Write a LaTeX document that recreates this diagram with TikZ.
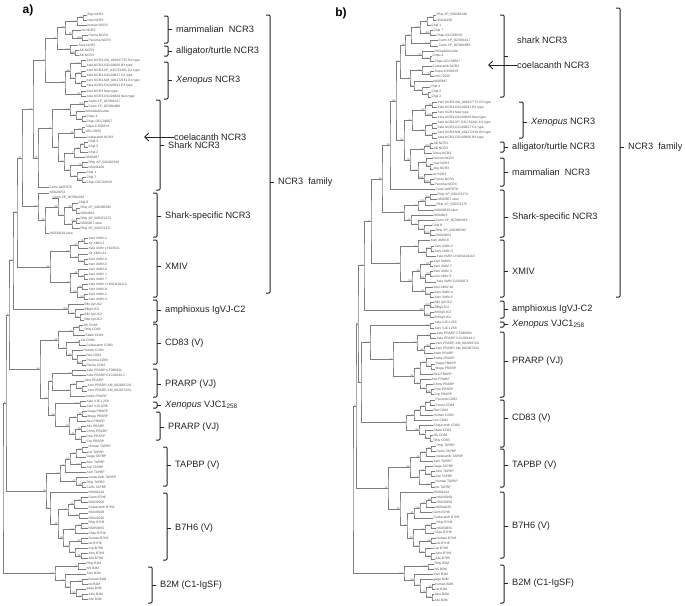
\documentclass[tikz,border=0pt]{standalone}
\usepackage{fontspec}
\setmainfont{Liberation Sans}
\usepackage{tikz}
\usetikzlibrary{calc, arrows.meta}
\definecolor{branchgray}{RGB}{125,125,125}
\definecolor{leafgray}{RGB}{80,80,80}
\definecolor{bracketblack}{RGB}{35,35,35}

\tikzset{
  br/.style={draw=branchgray, line width=0.45pt},
  lf/.style={anchor=west, inner sep=0.4pt, text=leafgray, font=\fontsize{3.3}{4}\selectfont},
  bsv/.style={anchor=east, inner sep=0.3pt, text=leafgray, font=\fontsize{2.5}{3}\selectfont},
  brk/.style={draw=bracketblack, line width=1pt, rounded corners=1pt},
  grplab/.style={anchor=west, inner sep=0pt, text=bracketblack, font=\fontsize{9.2}{11}\selectfont},
  carr/.style={draw=bracketblack, line width=1pt, -{Straight Barb[length=4pt,width=8pt]}},
}

%% leaf: name, row, tip x, label
\newcommand\leaf[4]{%
  \coordinate (#1) at (#3,{\ybase+(#2-1)*\ystep});
  \node[lf] (#1t) at (#1) {#4};}
%% clade: name, x, child, child, support
\newcommand\cl[5]{%
  \path let \p1=($(#3)!0.5!(#4)$) in coordinate (#1) at (#2pt,\y1);
  \draw[br] (#3) -| (#1) |- (#4);
  \node[bsv] (#1v) at (#1) {#5};}
%% bracket: name, x, top, bottom, tick, label
\newcommand\grp[6]{%
  \draw[brk] (#2-4,#3) -- (#2,#3) -- (#2,#4) -- (#2-4,#4);
  \draw[brk] (#2,#5) -- (#2+4,#5);
  \node[grplab] (#1) at (#2+8,#5) {#6};}

\begin{document}
\begin{tikzpicture}[x=1pt, y=-1pt]
  \useasboundingbox (0,0) rectangle (685,605);

  \node[font=\bfseries\fontsize{12}{14}\selectfont] (pa) at (28,10) {a)};
  \node[font=\bfseries\fontsize{12}{14}\selectfont] (pb) at (341,13) {b)};

  %% ---------------- tree a ----------------
  \def\ybase{15}\def\ystep{5.08}
  \foreach \n/\t/\s in {1/87/Bop NCR3, 2/87/cow NCR3, 3/87/human NCR3, 4/81/rat NCR3,
    5/88/Pecria NCR3, 6/88/Pecoma NCR3, 7/78/Tsca NCR3, 8/79/Alli NCR3, 9/79/Alli NCR3,
    10/86/Xeni NCR3-XM\_002937757 BX type, 11/86/Xela NCR3-OC100826 BX type,
    12/86/Xeni NCR3-XP\_031751201 CX type, 13/86/Xela NCR3-OC100817 CX type,
    14/86/Xeni NCR3-NM\_001172161 EX type, 15/86/Xela NCR3-OC100531 EX type,
    16/86/Xeni NCR3 New type, 17/86/Xela NCR3-OC100820 New type,
    18/88/Carm XP\_007884417, 19/88/Carm XP\_007884866, 20/85/NSXadaSii.slow,
    21/86/Chpu-4, 22/86/Chpu-GCC36507, 23/85/Scipo-C3VB6Y8, 24/85/NS172935,
    25/86/Coelacanth NCR3, 26/88/Chpl 3, 27/88/Chpl 5, 28/88/Chpl 2, 29/85/NS05847,
    30/88/Rhty XP\_020382339, 31/88/NS041406, 32/86/Chpl 1, 33/86/Chpl 7,
    34/86/Chpu GCC38539, 35/49/Carm JA6F6T8,
    36/49/NS024053, 37/52/Carm XP\_007884919, 38/78/Chpl 8, 39/80/Rhty XP\_020385593,
    40/80/NS04823, 41/80/Rhty XP\_020372273, 42/80/NS05857.slow,
    43/80/Rhty XP\_020373371, 44/49/NS032619.slow,
    45/88/Xeni XMIV-1, 46/88/Xtr XMIV-2, 47/88/Xela XMIV LY102511, 48/88/Xtr XMIV-12,
    49/88/Xeni XMIV-4, 50/88/Xeni XMIV-5, 51/88/Xeni XMIV-6, 52/88/Xeni XMIV 1,
    53/88/Xeni XMIV 7, 54/88/Xela XMIV LY1061102113, 55/88/Xeni XMIV-8,
    56/88/Xeni XMIV-2, 57/88/Xeni XMIV-3,
    58/84/Bflo IgVJC2, 59/84/BflIgVJC2, 60/84/Bflo IgVJC2, 61/84/Bbe IgVJC2,
    62/83/NS CD83, 63/84/Rhty CD83, 64/85/Skate CD83, 65/80/Xai CD83,
    66/86/Coelacanth CD83, 67/83/Human CD83, 68/86/Rat CD83, 69/86/Pecoma CD83,
    70/86/Pecria CD83,
    71/86/Xela PRARP CF280934, 72/86/Xela PRARP CC100144.1, 73/84/Alno PRARP,
    74/87/Xeni PRARP-XM\_002936720, 75/87/Xeni PRARP-XM\_002937234, 76/85/Anolis PRARP,
    77/86/Xela VJC1 258, 78/86/Xeni VJC1258,
    79/87/Gaga PRARP, 80/87/Mega PRARP, 81/86/Nira PRARP, 82/86/Allo PRARP,
    83/86/Chmy PRARP, 84/86/Pesi PRARP, 85/86/Crp PRARP,
    86/88/Human TAPBP, 87/88/rat TAPBP, 88/86/Gaga TAPBP, 89/86/Alno TAPBP,
    90/86/Alsi TAPBP, 91/86/Xeni TAPBP, 92/88/coelacanth TAPBP, 93/86/Rhty TAPBP,
    94/86/Carm TAPBP,
    95/88/NS001234, 96/88/Carm B7H6, 97/88/NS032956, 98/88/Coelacanth B7H6,
    99/88/NS045908, 100/88/NS022026, 101/88/Rhty B7H6, 102/88/NS050655,
    103/88/Chpu B7H6, 104/88/Human B7H6, 105/88/rat B7H6, 106/88/Crp B7H6,
    107/88/Alno B7H6, 108/88/Alsi B7H6,
    109/86/Rhty B2M, 110/86/NS B2M, 111/86/Xeni B2M, 112/88/human B2M,
    113/88/rat B2M, 114/86/gaga B2M, 115/88/Alno B2M, 116/88/Alsi B2M}
    {\leaf{a\n}{\n}{\t}{\s}}

  %% NCR3 (tetrapod, Xenopus)
  \cl{am1}{83}{a1}{a2}{99} \cl{am2}{77}{am1}{a3}{58} \cl{am3}{82}{a5}{a6}{100}
  \cl{am4}{72}{a4}{am3}{79} \cl{am5}{65}{am2}{am4}{95}
  \cl{at1}{75}{a8}{a9}{100} \cl{at2}{70}{a7}{at1}{100} \cl{at3}{57}{am5}{at2}{76}
  \cl{ax1}{81}{a10}{a11}{100} \cl{ax2}{81}{a12}{a13}{100} \cl{ax3}{81}{a14}{a15}{91}
  \cl{ax4}{81}{a16}{a17}{97} \cl{ax5}{75}{ax2}{ax3}{64} \cl{ax6}{70}{ax1}{ax5}{48}
  \cl{ax7}{65}{ax6}{ax4}{98} \cl{at4}{45}{at3}{ax7}{7}
  %% shark NCR3
  \cl{as1}{84}{a18}{a19}{100} \cl{as2}{82}{a21}{a22}{97} \cl{as3}{76}{a20}{as2}{64}
  \cl{as4}{70}{as1}{as3}{54} \cl{as5}{82}{a23}{a24}{99} \cl{as6}{74}{as5}{a25}{36}
  \cl{as7}{84}{a26}{a27}{98} \cl{as8}{80}{as7}{a28}{96} \cl{as9}{74}{as8}{a29}{7}
  \cl{as10}{82}{a30}{a31}{75} \cl{as11}{82}{a33}{a34}{100} \cl{as12}{77}{a32}{as11}{78}
  \cl{as13}{70}{as10}{as12}{58} \cl{as14}{64}{as9}{as13}{24} \cl{as15}{58}{as6}{as14}{12}
  \cl{as16}{52}{as4}{as15}{11} \cl{as17}{38}{as16}{a35}{14} \cl{an1}{33}{at4}{as17}{21}
  %% shark-specific
  \cl{ap1}{76}{a39}{a40}{99} \cl{ap2}{72}{a38}{ap1}{44} \cl{ap3}{76}{a41}{a42}{100}
  \cl{ap4}{72}{ap3}{a43}{92} \cl{ap5}{64}{ap2}{ap4}{31} \cl{ap6}{58}{a37}{ap5}{58}
  \cl{ap7}{45}{ap6}{a44}{16} \cl{ap8}{38}{a36}{ap7}{98} \cl{an2}{22}{an1}{ap8}{21}
  %% XMIV
  \cl{ai1}{84}{a45}{a46}{78} \cl{ai2}{78}{ai1}{a47}{97} \cl{ai3}{84}{a49}{a50}{99}
  \cl{ai4}{78}{a48}{ai3}{44} \cl{ai5}{70}{ai2}{ai4}{95} \cl{ai6}{84}{a52}{a53}{75}
  \cl{ai7}{78}{a51}{ai6}{48} \cl{ai8}{82}{a54}{a55}{98} \cl{ai9}{84}{a56}{a57}{93}
  \cl{ai10}{77}{ai8}{ai9}{55} \cl{ai11}{70}{ai7}{ai10}{34} \cl{ai12}{50}{ai5}{ai11}{55}
  \cl{an3}{17}{an2}{ai12}{28}
  %% amphioxus
  \cl{aw1}{80}{a60}{a61}{94} \cl{aw2}{75}{a59}{aw1}{100} \cl{aw3}{68}{a58}{aw2}{100}
  \cl{an4}{13}{an3}{aw3}{8}
  %% CD83
  \cl{ac1}{79}{a62}{a63}{98} \cl{ac2}{73}{ac1}{a64}{91} \cl{ac3}{79}{a65}{a66}{63}
  \cl{ac4}{82}{a69}{a70}{100} \cl{ac5}{77}{a68}{ac4}{67} \cl{ac6}{72}{a67}{ac5}{59}
  \cl{ac7}{66}{ac3}{ac6}{38} \cl{ac8}{58}{ac2}{ac7}{54}
  %% PRARP, Xenopus VJC1
  \cl{ar1}{72}{a71}{a72}{99} \cl{ar2}{82}{a74}{a75}{99} \cl{ar3}{76}{a73}{ar2}{64}
  \cl{ar4}{70}{ar3}{a76}{54} \cl{ar5}{52}{ar1}{ar4}{76} \cl{ar6}{80}{a77}{a78}{100}
  \cl{ar7}{82}{a79}{a80}{93} \cl{ar8}{77}{ar7}{a81}{51} \cl{ar9}{81}{a82}{a83}{78}
  \cl{ar10}{81}{a84}{a85}{97} \cl{ar11}{75}{ar9}{ar10}{45} \cl{ar12}{69}{ar8}{ar11}{79}
  \cl{ar13}{55}{ar6}{ar12}{14} \cl{ar14}{48}{ar5}{ar13}{73} \cl{an5}{40}{ac8}{ar14}{14}
  \cl{an6}{9}{an4}{an5}{4}
  %% TAPBP
  \cl{aq1}{82}{a86}{a87}{99} \cl{aq2}{76}{aq1}{a88}{93} \cl{aq3}{81}{a89}{a90}{100}
  \cl{aq4}{70}{aq2}{aq3}{57} \cl{aq5}{65}{aq4}{a91}{67} \cl{aq6}{82}{a93}{a94}{98}
  \cl{aq7}{76}{a92}{aq6}{47} \cl{aq8}{60}{aq5}{aq7}{98}
  %% B7H6
  \cl{ah1}{81}{a96}{a97}{47} \cl{ah2}{74}{ah1}{a98}{24} \cl{ah3}{79}{a99}{a100}{24}
  \cl{ah4}{68}{ah2}{ah3}{21} \cl{ah5}{81}{a101}{a102}{47} \cl{ah6}{75}{ah5}{a103}{100}
  \cl{ah7}{81}{a104}{a105}{97} \cl{ah8}{81}{a107}{a108}{99} \cl{ah9}{75}{a106}{ah8}{27}
  \cl{ah10}{69}{ah7}{ah9}{62} \cl{ah11}{63}{ah6}{ah10}{18} \cl{ah12}{58}{ah4}{ah11}{34}
  \cl{ah13}{50}{a95}{ah12}{44} \cl{an7}{46}{aq8}{ah13}{79}
  \cl{an8}{6}{an6}{an7}{9}
  %% B2M
  \cl{ab1}{78}{a109}{a110}{99} \cl{ab2}{82}{a112}{a113}{98} \cl{ab3}{82}{a115}{a116}{99}
  \cl{ab4}{76}{a114}{ab3}{55} \cl{ab5}{70}{ab2}{ab4}{79} \cl{ab6}{65}{a111}{ab5}{72}
  \cl{ab7}{55}{ab1}{ab6}{100} \cl{aroot}{3}{an8}{ab7}{}

  %% groups, tree a
  \grp{ga1}{168}{16}{43}{29}{mammalian\ \ NCR3}
  \grp{ga2}{168}{46}{56}{51}{alligator/turtle NCR3}
  \grp{ga3}{168}{62}{99}{80}{\itshape Xenopus\upshape\ NCR3}
  \grp{ga4}{160}{100}{190}{145}{Shark NCR3}
  \grp{ga5}{157}{193}{237}{216}{Shark-specific NCR3}
  \grp{ga6}{157}{240}{297}{266}{XMIV}
  \grp{ga7}{157}{300}{322}{310}{amphioxus IgVJ-C2}
  \grp{ga8}{157}{324}{364}{343}{CD83 (V)}
  \grp{ga9}{157}{369}{397}{384}{PRARP (VJ)}
  \grp{ga10}{157}{402}{408}{405}{\itshape Xenopus\upshape\ VJC1\textsubscript{258}}
  \grp{ga11}{160}{412}{440}{427}{PRARP (VJ)}
  \grp{ga12}{167}{447}{486}{465}{TAPBP (V)}
  \grp{ga13}{167}{493}{560}{528}{B7H6 (V)}
  \grp{ga14}{152}{567}{603}{585}{B2M (C1-IgSF)}
  \grp{ga15}{270}{15}{293}{182}{NCR3\ \ family}
  \node[grplab] (coa) at (174,137) {coelacanth NCR3};
  \coordinate (coatip) at (144,137);
  \draw[carr] (coa.west) -- (coatip);

  %% ---------------- tree b ----------------
  \def\ybase{15}\def\ystep{5.13}
  \foreach \n/\t/\s in {1/436/Rhty XP\_020382339, 2/436/NS041406, 3/431/Chpl 1,
    4/433/Chpl 7, 5/436/Chpu GCC38539, 6/438/Carm XP\_007884417, 7/438/Carm XP\_007884866,
    8/434/NSXadaSii.slow, 9/432/Chpu-4, 10/434/Chpu-GCC36507, 11/432/Coelacanth NCR3,
    12/434/Scipo-C3VB6Y8, 13/434/NS172935, 14/433/NS05847, 15/430/Chpl 3,
    16/431/Chpl 5, 17/431/Chpl 2,
    18/437/Xeni NCR3-XM\_002937757 EX type, 19/437/Xela NCR3-OC100531 EX type,
    20/437/Xeni NCR3 New type, 21/437/Xela NCR3-OC100820 New type,
    22/437/Xeni NCR3-XP\_031751201 CX type, 23/437/Xela NCR3-OC100817 CX type,
    24/437/Xeni NCR3-NM\_001172161 BX type, 25/437/Xela NCR3-OC100826 BX type,
    26/433/Alli NCR3, 27/433/Alli NCR3, 28/432/Tesca NCR3, 29/433/human NCR3,
    30/433/cow NCR3, 31/433/dog NCR3, 32/432/rat NCR3, 33/434/Pecria NCR3,
    34/434/Pecoma NCR3, 35/435/Carm JA6F6T8,
    36/437/Rhty XP\_020373273, 37/437/NS05857.slow, 38/436/Rhty XP\_020372275,
    39/434/NS032619.slow, 40/433/NS04823, 41/435/Carm XP\_007884919, 42/432/Chpl 8,
    43/435/Rhty XP\_020385593, 44/435/NS024053,
    45/430/Xeni XMIV-6, 46/434/Xeni XMIV-2, 47/434/Xeni XMIV-3,
    48/436/Xela XMIV LY1061102113, 49/433/Xeni XMIV1, 50/433/Xeni XMIV-7,
    51/433/Xeni XMIV 3, 52/433/xeni XMIV 8, 53/436/Xela XMIV CA306071,
    54/433/xeni XMIV-10, 55/434/Xeni XMIV-4, 56/434/Xeni XMIV-5,
    57/434/Bflo IgVJC2, 58/434/BflIgVJC2, 59/434/Brfl IgVJC2, 60/434/Brfl IgVJC2,
    61/434/Xela VJC1 258, 62/434/Xeni VJC1 258,
    63/436/Xela PRARP CF280934, 64/436/Xela PRARP CC100144.1,
    65/435/Xeni PRARP-XM\_002936720, 66/435/Xeni PRARP-XM\_002937234,
    67/433/Amm PRARP, 68/433/Anolis PRARP, 69/435/Gaga PRARP, 70/435/Mega PRARP,
    71/433/Nira PRARP, 72/431/Ano PRARP, 73/433/Chmy PRARP, 74/434/Pesi PRARP,
    75/434/Crp PRARP,
    76/435/Pecoma CD83, 77/435/Pecria CD83, 78/433/Rat CD83, 79/433/Human CD83,
    80/432/Cen CD83, 81/433/Coelacanth CD83, 82/433/Skate CD83, 83/433/NS CD83,
    84/433/Rhty CD83,
    85/436/Rhty TAPBP, 86/436/Carm TAPBP, 87/435/coelacanth TAPBP, 88/433/Xeni TAPBP,
    89/433/Gaga TAPBP, 90/435/Alno TAPBP, 91/435/Alsi TAPBP, 92/435/Human TAPBP,
    93/435/rat TAPBP,
    94/433/NS001234, 95/436/NS045908, 96/436/NS032956, 97/435/NS044025,
    98/432/Carm B7H6, 99/433/Coelacanth B7H6, 100/436/Rhty B7H6, 101/436/NS050655,
    102/434/Chpu B7H6, 103/436/Human B7H6, 104/436/rat B7H6, 105/433/Crp B7H6,
    106/435/Alno B7H6, 107/435/Alsi B7H6,
    108/434/Rhty B2M, 109/434/NS B2M, 110/433/Xeni B2M, 111/433/gaga B2M,
    112/435/human B2M, 113/435/rat B2M, 114/434/Alno B2M, 115/434/Alsi B2M}
    {\leaf{b\n}{\n}{\t}{\s}}

  %% shark NCR3
  \cl{bs1}{433}{b1}{b2}{84} \cl{bs2}{427}{bs1}{b3}{7} \cl{bs3}{430}{b4}{b5}{100}
  \cl{bs4}{420}{bs2}{bs3}{100} \cl{bs5}{430}{b6}{b7}{100} \cl{bs6}{411}{bs4}{bs5}{54}
  \cl{bs7}{430}{b9}{b10}{100} \cl{bs8}{422}{b8}{bs7}{63} \cl{bs9}{405}{bs6}{bs8}{13}
  \cl{bs10}{430}{b12}{b13}{79} \cl{bs11}{422}{b11}{bs10}{100} \cl{bs12}{428}{b16}{b17}{78}
  \cl{bs13}{422}{b15}{bs12}{100} \cl{bs14}{414}{b14}{bs13}{33} \cl{bs15}{410}{bs11}{bs14}{9}
  \cl{bs16}{400}{bs9}{bs15}{13}
  %% Xenopus, alligator/turtle, mammalian NCR3
  \cl{bx1}{432}{b18}{b19}{99} \cl{bx2}{432}{b20}{b21}{100} \cl{bx3}{425}{bx1}{bx2}{47}
  \cl{bx4}{432}{b22}{b23}{100} \cl{bx5}{432}{b24}{b25}{100} \cl{bx6}{425}{bx4}{bx5}{51}
  \cl{bx7}{412}{bx3}{bx6}{71}
  \cl{bt1}{430}{b26}{b27}{100} \cl{bt2}{424}{bt1}{b28}{99}
  \cl{bm1}{430}{b30}{b31}{74} \cl{bm2}{426}{b29}{bm1}{62} \cl{bm3}{430}{b33}{b34}{100}
  \cl{bm4}{424}{b32}{bm3}{100} \cl{bm5}{418}{bm2}{bm4}{100} \cl{bm6}{410}{bt2}{bm5}{76}
  \cl{bm7}{404}{bx7}{bm6}{81} \cl{bn1}{396}{bs16}{bm7}{81} \cl{bn2}{390}{bn1}{b35}{15}
  %% shark-specific
  \cl{bp1}{430}{b36}{b37}{100} \cl{bp2}{425}{bp1}{b38}{100} \cl{bp3}{418}{bp2}{b39}{84}
  \cl{bp4}{430}{b43}{b44}{100} \cl{bp5}{424}{b42}{bp4}{63} \cl{bp6}{418}{b41}{bp5}{21}
  \cl{bp7}{411}{b40}{bp6}{22} \cl{bp8}{404}{bp3}{bp7}{57} \cl{bn3}{382}{bn2}{bp8}{29}
  %% XMIV
  \cl{bi1}{431}{b46}{b47}{100} \cl{bi2}{426}{bi1}{b48}{100} \cl{bi3}{418}{b45}{bi2}{88}
  \cl{bi4}{430}{b49}{b50}{95} \cl{bi5}{430}{b51}{b52}{93} \cl{bi6}{425}{bi5}{b53}{60}
  \cl{bi7}{420}{bi4}{bi6}{49} \cl{bi8}{430}{b55}{b56}{100} \cl{bi9}{425}{b54}{bi8}{67}
  \cl{bi10}{412}{bi7}{bi9}{50} \cl{bi11}{400}{bi3}{bi10}{61} \cl{bn4}{371}{bn3}{bi11}{47}
  %% amphioxus
  \cl{bw1}{430}{b57}{b58}{100} \cl{bw2}{430}{b59}{b60}{100} \cl{bw3}{424}{bw1}{bw2}{100}
  \cl{bn5}{364}{bn4}{bw3}{14}
  %% Xenopus VJC1, PRARP
  \cl{bv1}{430}{b61}{b62}{100}
  \cl{br1}{430}{b63}{b64}{97} \cl{br2}{430}{b65}{b66}{99} \cl{br3}{424}{br2}{b67}{62}
  \cl{br4}{417}{br1}{br3}{52} \cl{br5}{431}{b69}{b70}{73} \cl{br6}{426}{b68}{br5}{40}
  \cl{br7}{420}{br6}{b71}{94} \cl{br8}{431}{b74}{b75}{96} \cl{br9}{426}{b73}{br8}{41}
  \cl{br10}{420}{b72}{br9}{32} \cl{br11}{414}{br7}{br10}{93} \cl{br12}{393}{br4}{br11}{79}
  \cl{br13}{370}{bv1}{br12}{83}
  %% CD83
  \cl{bc1}{430}{b76}{b77}{100} \cl{bc2}{425}{bc1}{b78}{64} \cl{bc3}{420}{bc2}{b79}{100}
  \cl{bc4}{414}{bc3}{b80}{44} \cl{bc5}{430}{b83}{b84}{100} \cl{bc6}{425}{b82}{bc5}{71}
  \cl{bc7}{419}{b81}{bc6}{64} \cl{bc8}{406}{bc4}{bc7}{41}
  \cl{bn6}{361}{br13}{bc8}{31} \cl{bn7}{358}{bn5}{bn6}{8}
  %% TAPBP
  \cl{bq1}{431}{b85}{b86}{97} \cl{bq2}{426}{bq1}{b87}{100} \cl{bq3}{420}{bq2}{b88}{24}
  \cl{bq4}{431}{b90}{b91}{100} \cl{bq5}{425}{b89}{bq4}{97} \cl{bq6}{431}{b92}{b93}{100}
  \cl{bq7}{419}{bq5}{bq6}{56} \cl{bq8}{410}{bq3}{bq7}{99}
  %% B7H6
  \cl{bh1}{431}{b95}{b96}{48} \cl{bh2}{426}{bh1}{b97}{31} \cl{bh3}{420}{bh2}{b98}{29}
  \cl{bh4}{414}{bh3}{b99}{41} \cl{bh5}{431}{b100}{b101}{100} \cl{bh6}{425}{bh5}{b102}{52}
  \cl{bh7}{431}{b103}{b104}{98} \cl{bh8}{431}{b106}{b107}{100} \cl{bh9}{425}{b105}{bh8}{85}
  \cl{bh10}{419}{bh7}{bh9}{59} \cl{bh11}{413}{bh6}{bh10}{33} \cl{bh12}{407}{bh4}{bh11}{47}
  \cl{bh13}{400}{b94}{bh12}{92} \cl{bn8}{388}{bq8}{bh13}{72}
  \cl{bn9}{356}{bn7}{bn8}{6}
  %% B2M
  \cl{bb1}{428}{b108}{b109}{100} \cl{bb2}{432}{b112}{b113}{99} \cl{bb3}{432}{b114}{b115}{100}
  \cl{bb4}{426}{bb2}{bb3}{75} \cl{bb5}{420}{b111}{bb4}{66} \cl{bb6}{414}{b110}{bb5}{93}
  \cl{bb7}{404}{bb1}{bb6}{100} \cl{broot}{353}{bn9}{bb7}{}

  %% groups, tree b
  \grp{gb1}{504}{15}{97}{56}{}
  \node[grplab] (shb) at (517,40) {shark NCR3};
  \grp{gb2}{523}{102}{138}{122}{\itshape Xenopus\upshape\ NCR3}
  \grp{gb3}{504}{142}{152}{147}{alligator/turtle NCR3}
  \grp{gb4}{504}{158}{186}{172}{mammalian\ \ NCR3}
  \grp{gb5}{504}{190}{237}{217}{Shark-specific NCR3}
  \grp{gb6}{504}{240}{297}{271}{XMIV}
  \grp{gb7}{504}{301}{318}{309}{amphioxus IgVJ-C2}
  \grp{gb8}{504}{322}{327}{324}{\itshape Xenopus\upshape\ VJC1\textsubscript{258}}
  \grp{gb9}{504}{332}{397}{361}{PRARP (VJ)}
  \grp{gb10}{504}{400}{447}{418}{CD83 (V)}
  \grp{gb11}{504}{449}{487}{465}{TAPBP (V)}
  \grp{gb12}{504}{492}{558}{526}{B7H6 (V)}
  \grp{gb13}{504}{565}{603}{583}{B2M (C1-IgSF)}
  \grp{gb14}{620}{8}{297}{147}{NCR3\ \ family}
  \node[grplab] (cob) at (517,65) {coelacanth NCR3};
  \coordinate (cobtip) at (488,65);
  \draw[carr] (cob.west) -- (cobtip);
\end{tikzpicture}
\end{document}
